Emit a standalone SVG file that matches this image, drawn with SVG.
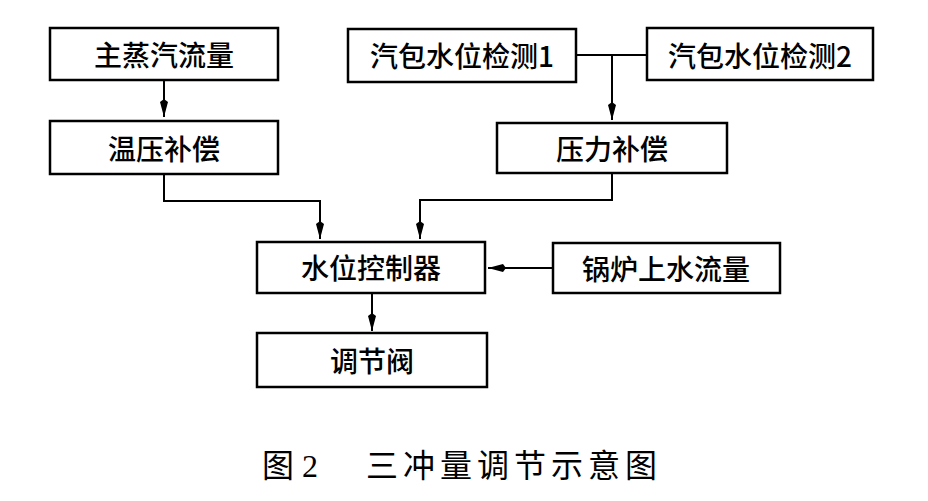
<svg xmlns="http://www.w3.org/2000/svg" width="928" height="501" viewBox="0 0 928 501">
<defs>
<style>
.box{fill:#fff;stroke:#000;stroke-width:2.5}
.lbl{font-family:"Noto Sans CJK SC","Liberation Sans",sans-serif;font-size:28px;font-weight:500;fill:#000;text-anchor:middle;dominant-baseline:central}
.cap{font-family:"Liberation Serif","Noto Sans CJK SC",serif;font-size:32px;fill:#000}
.ln{fill:none;stroke:#000;stroke-width:2}
</style>
<marker id="ah" markerUnits="userSpaceOnUse" markerWidth="20" markerHeight="10" refX="18" refY="5" orient="auto">
<path d="M0,5 L3,1 L18,5 L3,9 Z" fill="#000"/>
</marker>
</defs>
<rect width="928" height="501" fill="#fff"/>
<g id="connectors">
<path class="ln" d="M164,80 V117" marker-end="url(#ah)"/>
<path class="ln" d="M576,55 H647"/>
<path class="ln" d="M612,55 V120" marker-end="url(#ah)"/>
<path class="ln" d="M164,174 V201 H320 V239" marker-end="url(#ah)"/>
<path class="ln" d="M612,173 V200 H420 V239" marker-end="url(#ah)"/>
<path class="ln" d="M553,268 H488" marker-end="url(#ah)"/>
<path class="ln" d="M372,293 V331" marker-end="url(#ah)"/>
</g>
<g id="n1"><rect class="box" x="50" y="28" width="228" height="52"/><text class="lbl" x="164" y="54">主蒸汽流量</text></g>
<g id="n2"><rect class="box" x="50" y="121" width="228" height="53"/><text class="lbl" x="164" y="148">温压补偿</text></g>
<g id="n3"><rect class="box" x="348" y="29" width="228" height="53"/><text class="lbl" x="462" y="55">汽包水位检测1</text></g>
<g id="n4"><rect class="box" x="647" y="28" width="226" height="52"/><text class="lbl" x="760" y="55">汽包水位检测2</text></g>
<g id="n5"><rect class="box" x="497" y="123" width="230" height="50"/><text class="lbl" x="612" y="148">压力补偿</text></g>
<g id="n6"><rect class="box" x="257" y="242" width="228" height="51"/><text class="lbl" x="371" y="267">水位控制器</text></g>
<g id="n7"><rect class="box" x="553" y="243" width="227" height="50"/><text class="lbl" x="666" y="268">锅炉上水流量</text></g>
<g id="n8"><rect class="box" x="257" y="333" width="230" height="54"/><text class="lbl" x="372" y="360">调节阀</text></g>
<g id="caption">
<text class="cap" x="262" y="477">图 2</text>
<text class="cap" x="366" y="477" letter-spacing="5">三冲量调节示意图</text>
</g>
</svg>
